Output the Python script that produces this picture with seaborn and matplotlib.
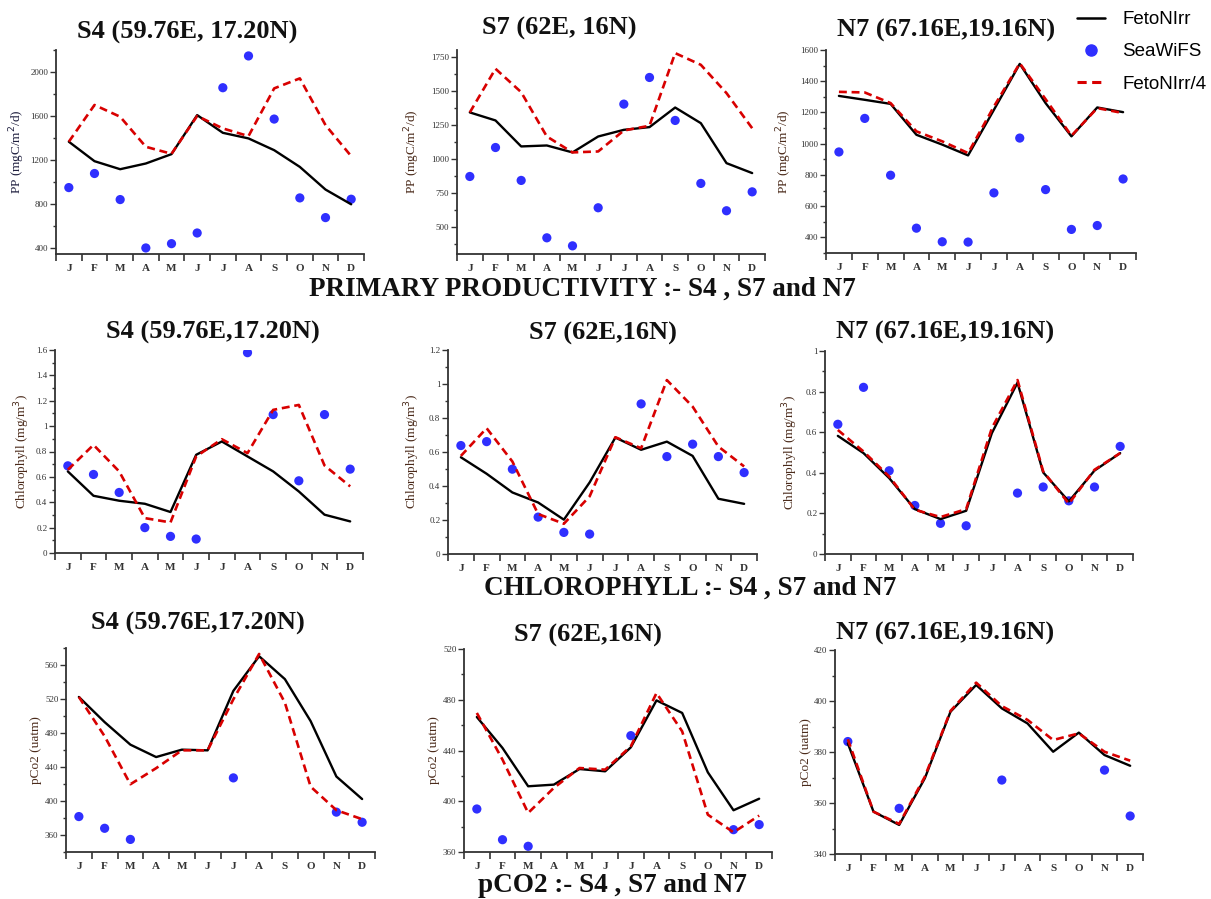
import numpy as np
import pandas as pd
import seaborn as sns
import matplotlib.pyplot as plt
from matplotlib.ticker import MultipleLocator, FormatStrFormatter
from matplotlib.lines import Line2D

sns.set_style("ticks")
plt.rcParams['font.family'] = ['Liberation Serif', 'DejaVu Serif']

months = ['J', 'F', 'M', 'A', 'M', 'J', 'J', 'A', 'S', 'O', 'N', 'D']
nan = np.nan

# primary productivity (mgC/m2/d)
pp_s4_fe = [1366, 1189, 1116, 1168, 1253, 1608, 1447, 1396, 1289, 1137, 931, 797]
pp_s4_fe4 = [1366, 1700, 1593, 1320, 1256, 1600, 1487, 1417, 1851, 1942, 1517, 1235]
pp_s4_sw = [949, 1077, 840, 400, 439, 536, 1857, 2146, 1572, 855, 676, 843]

pp_s7_fe = [1341, 1282, 1091, 1098, 1047, 1164, 1213, 1233, 1377, 1262, 968, 895]
pp_s7_fe4 = [1341, 1662, 1490, 1164, 1047, 1054, 1208, 1243, 1777, 1691, 1483, 1225]
pp_s7_sw = [870, 1083, 841, 419, 360, 640, 1402, 1598, 1282, 819, 618, 757]

pp_n7_fe = [1306, 1281, 1255, 1057, 994, 925, 1217, 1511, 1260, 1047, 1232, 1202]
pp_n7_fe4 = [1332, 1328, 1260, 1079, 1015, 940, 1238, 1515, 1285, 1051, 1228, 1196]
pp_n7_sw = [947, 1162, 798, 459, 372, 370, 685, 1036, 706, 451, 476, 774]

# chlorophyll (mg/m3)
chl_s4_fe = [0.643, 0.451, 0.412, 0.388, 0.323, 0.774, 0.879, 0.761, 0.643, 0.485, 0.302, 0.249]
chl_s4_fe4 = [0.656, 0.852, 0.643, 0.275, 0.241, 0.761, 0.897, 0.787, 1.128, 1.167, 0.69, 0.525]
chl_s4_sw = [0.687, 0.619, 0.477, 0.2, 0.131, 0.11, nan, 1.579, 1.091, 0.569, 1.091, 0.661]

chl_s7_fe = [0.569, 0.472, 0.362, 0.303, 0.202, 0.421, 0.685, 0.613, 0.661, 0.577, 0.325, 0.295]
chl_s7_fe4 = [0.577, 0.74, 0.544, 0.235, 0.178, 0.339, 0.687, 0.622, 1.023, 0.867, 0.632, 0.515]
chl_s7_sw = [0.638, 0.661, 0.499, 0.217, 0.127, 0.117, nan, 0.883, 0.573, 0.646, 0.573, 0.479]

chl_n7_fe = [0.582, 0.497, 0.374, 0.221, 0.172, 0.213, 0.595, 0.844, 0.402, 0.259, 0.411, 0.497]
chl_n7_fe4 = [0.611, 0.505, 0.382, 0.218, 0.182, 0.221, 0.62, 0.857, 0.407, 0.248, 0.415, 0.497]
chl_n7_sw = [0.639, 0.821, 0.41, 0.239, 0.151, 0.139, nan, 0.3, 0.33, 0.262, 0.33, 0.53]

# pCO2 (uatm)
co2_s4_fe = [522.4, 492.8, 466.3, 451.7, 460.4, 459.6, 529.6, 570.3, 543.4, 494.0, 428.8, 402.3]
co2_s4_fe4 = [522.4, 476.2, 419.7, 438.6, 459.6, 459.6, 519.7, 573.0, 515.7, 416.9, 389.2, 378.6]
co2_s4_sw = [381.7, 367.9, 354.8, nan, nan, nan, 427.2, nan, nan, nan, 386.9, 375.0]

co2_s7_fe = [466.4, 442.0, 411.8, 413.1, 425.4, 423.6, 442.5, 479.5, 469.6, 422.8, 392.9, 402.0]
co2_s7_fe4 = [469.6, 432.8, 390.8, 410.5, 426.2, 424.9, 443.3, 485.3, 455.1, 389.4, 375.5, 388.7]
co2_s7_sw = [393.9, 369.7, 364.5, nan, nan, nan, 451.7, nan, nan, nan, 377.6, 381.6]

co2_n7_fe = [383.4, 356.6, 351.4, 369.7, 395.8, 406.3, 397.1, 391.2, 380.1, 387.6, 378.8, 374.6]
co2_n7_fe4 = [385.0, 356.6, 351.8, 370.3, 396.1, 407.2, 398.0, 392.6, 384.7, 387.3, 380.1, 376.6]
co2_n7_sw = [384.1, nan, 357.9, nan, nan, nan, 369.0, nan, nan, nan, 372.9, 354.9]

titles = ['S4 (59.76E, 17.20N)', 'S7 (62E, 16N)', 'N7 (67.16E,19.16N)',
          'S4 (59.76E,17.20N)', 'S7 (62E,16N)', 'N7 (67.16E,19.16N)',
          'S4 (59.76E,17.20N)', 'S7 (62E,16N)', 'N7 (67.16E,19.16N)']
ylabels = ['PP (mgC/m$^2$/d)'] * 3 + ['Chlorophyll (mg/m$^3$)'] * 3 + ['pCo2 (uatm)'] * 3
captions = ['PRIMARY PRODUCTIVITY :- S4 , S7 and N7',
            'CHLOROPHYLL :- S4 , S7 and N7',
            'pCO2 :- S4 , S7 and N7']

panels = [
    (pp_s4_fe, pp_s4_fe4, pp_s4_sw), (pp_s7_fe, pp_s7_fe4, pp_s7_sw), (pp_n7_fe, pp_n7_fe4, pp_n7_sw),
    (chl_s4_fe, chl_s4_fe4, chl_s4_sw), (chl_s7_fe, chl_s7_fe4, chl_s7_sw), (chl_n7_fe, chl_n7_fe4, chl_n7_sw),
    (co2_s4_fe, co2_s4_fe4, co2_s4_sw), (co2_s7_fe, co2_s7_fe4, co2_s7_sw), (co2_n7_fe, co2_n7_fe4, co2_n7_sw),
]

# axis setup: ylim, major step, minor step
yaxes = [((345, 2200), 400, 200), ((300, 1800), 250, 125), ((300, 1600), 200, 100),
         ((0, 1.6), 0.2, 0.1), ((0, 1.2), 0.2, 0.1), ((0, 1.0), 0.2, 0.1),
         ((340, 580), 40, 20), ((360, 520), 40, 20), ((340, 420), 20, 10)]

# pixel boxes (left, right, top, bottom)
W, H = 1211, 899
boxes = [(56, 364, 50, 254), (457, 765, 50, 254), (826, 1136, 50, 253),
         (55, 363, 350, 553), (448, 757, 350, 554), (825, 1133, 351, 554),
         (66, 375, 648, 852), (464, 772, 649, 852), (835, 1143, 650, 854)]
title_pos = [(187, 32), (559, 28), (946, 30),
             (213, 332), (603, 333), (945, 332),
             (198, 623), (588, 635), (945, 633)]
label_gap = [36, 42, 39, 30, 33, 32, 31, 31, 30]
caption_pos = [(582, 289), (690, 588), (612, 885)]

fig = plt.figure(figsize=(W / 100, H / 100), dpi=100)

for i, (fe, fe4, sw) in enumerate(panels):
    l, r, t, b = boxes[i]
    ax = fig.add_axes([l / W, 1 - b / H, (r - l) / W, (b - t) / H])
    df = pd.DataFrame({'m': np.arange(12), 'fe': fe, 'fe4': fe4, 'sw': sw})

    sns.scatterplot(data=df, x='m', y='sw', ax=ax, color='#2f2fff', s=44,
                    edgecolor='none', marker='o', zorder=2)
    sns.lineplot(data=df, x='m', y='fe', ax=ax, color='black', lw=1.7, zorder=3)
    sns.lineplot(data=df, x='m', y='fe4', ax=ax, color='#d80000', lw=1.9,
                 dashes=False, zorder=4).lines[-1].set_dashes((3, 1.8))

    ylim, major, minor = yaxes[i]
    ax.set_ylim(*ylim)
    ax.set_xlim(-0.5, 11.5)
    ax.yaxis.set_major_locator(MultipleLocator(major))
    ax.yaxis.set_minor_locator(MultipleLocator(minor))
    ax.yaxis.set_major_formatter(FormatStrFormatter('%g'))
    ax.set_xticks(np.arange(-0.5, 12, 1))
    ax.set_xticklabels([])
    ax.set_xticks(np.arange(12), minor=True)
    ax.set_xticklabels(months, minor=True, fontsize=8, fontweight='bold', color='#333333')
    ax.tick_params(axis='x', which='major', length=5, width=1.2, color='0.2')
    ax.tick_params(axis='x', which='minor', length=0, pad=7)
    ax.tick_params(axis='y', which='major', length=4, width=1.0, labelsize=6.5,
                   color='0.2', labelcolor='#333333', pad=1.5)
    ax.tick_params(axis='y', which='minor', length=2.5, width=1.0, color='0.2')

    for s in ['top', 'right']:
        ax.spines[s].set_visible(False)
    for s in ['left', 'bottom']:
        ax.spines[s].set_linewidth(1.3)
        ax.spines[s].set_color('0.2')

    ax.set_xlabel('')
    ax.set_ylabel(ylabels[i], fontsize=9.5, color='#1f1f3f' if i == 0 else '#4a2a1a')
    ax.yaxis.set_label_coords(-(label_gap[i] - 7) / (r - l), 0.5)

    tx, ty = title_pos[i]
    fig.text(tx / W, 1 - ty / H, titles[i], ha='center', va='center',
             fontsize=19, fontweight='bold', color='#111111')

for (cx, cy), cap in zip(caption_pos, captions):
    fig.text(cx / W, 1 - cy / H, cap, ha='center', va='center',
             fontsize=19.5, fontweight='bold', color='#111111')

handles = [Line2D([], [], color='black', lw=1.8),
           Line2D([], [], color='#2f2fff', marker='o', ls='none', markersize=8),
           Line2D([], [], color='#d80000', lw=2.2, dashes=(3, 1.8))]
fig.legend(handles, ['FetoNIrr', 'SeaWiFS', 'FetoNIrr/4'], loc='upper left',
           bbox_to_anchor=(1066 / W, 1 - 0 / H), frameon=False, handlelength=1.5,
           labelspacing=0.8, handletextpad=0.9, borderaxespad=0.2, labelcolor='black',
           prop={'family': ['Liberation Sans'], 'size': 13.5})

fig.savefig('out.png', dpi=100)
